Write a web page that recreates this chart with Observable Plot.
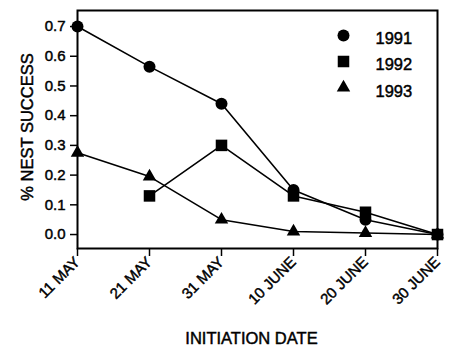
<!DOCTYPE html>
<html>
<head>
<meta charset="utf-8">
<script src="https://cdn.jsdelivr.net/npm/d3@7"></script>
<script src="https://cdn.jsdelivr.net/npm/@observablehq/plot@0.6"></script>
<style>
  html, body { margin: 0; padding: 0; background: white; }
  #chart svg text { stroke: #000; stroke-width: 0.45px; }
</style>
</head>
<body>
<div id="chart"></div>
<script>
const dateLabels = ["11 MAY", "21 MAY", "31 MAY", "10 JUNE", "20 JUNE", "30 JUNE"];
const dayOffsets = [0, 10, 20, 30, 40, 50];
const years = ["1991", "1992", "1993"];
const s1991 = [0.70, 0.565, 0.44, 0.15, 0.05, 0.0];
const s1992 = [null, 0.13, 0.30, 0.13, 0.075, 0.0];
const s1993 = [0.275, 0.195, 0.05, 0.01, 0.005, 0.0];
const yTicks = [0, 0.1, 0.2, 0.3, 0.4, 0.5, 0.6, 0.7];

const seriesValues = [s1991, s1992, s1993];
const rows = [];
years.forEach((yr, i) => {
  seriesValues[i].forEach((v, j) => {
    if (v !== null) rows.push({year: yr, day: dayOffsets[j], value: v});
  });
});

// marker style (radius per symbol)
const markerR = {"1991": 6, "1992": 6.5, "1993": 5};
const font = "'Liberation Sans', Arial, sans-serif";

const legendMarks = years.flatMap((yr, i) => [
  Plot.dot([yr], {frameAnchor: "top-right", dx: -94, dy: 25 + 26 * i,
    symbol: d => d, fill: "black", r: markerR[yr]}),
  Plot.text([yr], {frameAnchor: "top-right", dx: -62, dy: 28 + 26.5 * i,
    text: d => d, textAnchor: "start", lineAnchor: "middle", fontSize: 16.5, fill: "black"})
]);

const chart = Plot.plot({
  width: 451,
  height: 345,
  marginLeft: 77,
  marginRight: 14,
  marginTop: 10,
  marginBottom: 97,
  style: {fontFamily: font, color: "black", background: "white"},
  x: {domain: [0, 50]},
  y: {domain: [-0.047, 0.754]},
  r: {type: "identity"},
  symbol: {domain: years, range: ["circle", "square", "triangle"]},
  marks: [
    Plot.axisY({
      ticks: yTicks, tickFormat: ".1f", tickSize: 7, tickPadding: 5,
      fontSize: 15, strokeWidth: 1.5, label: null
    }),
    Plot.axisX({
      ticks: dayOffsets, tickFormat: d => dateLabels[dayOffsets.indexOf(d)],
      tickRotate: -45, tickSize: 8, tickPadding: 3, fontSize: 15, strokeWidth: 1.5,
      label: null
    }),
    Plot.text(["% NEST SUCCESS"], {frameAnchor: "left", dx: -45, dy: -2.5, rotate: -90,
      text: d => d, lineAnchor: "bottom", textAnchor: "middle", fontSize: 16.5, fill: "black"}),
    Plot.text(["INITIATION DATE"], {frameAnchor: "bottom", dx: -6, dy: 95,
      text: d => d, lineAnchor: "bottom", textAnchor: "middle", fontSize: 16.5, fill: "black"}),
    Plot.frame({stroke: "black", strokeWidth: 2}),
    Plot.line(rows, {x: "day", y: "value", z: "year", stroke: "black", strokeWidth: 1.6}),
    Plot.dot(rows, {x: "day", y: "value", symbol: "year", fill: "black", r: d => markerR[d.year]}),
    ...legendMarks
  ]
});

document.getElementById("chart").appendChild(chart);
</script>
</body>
</html>
